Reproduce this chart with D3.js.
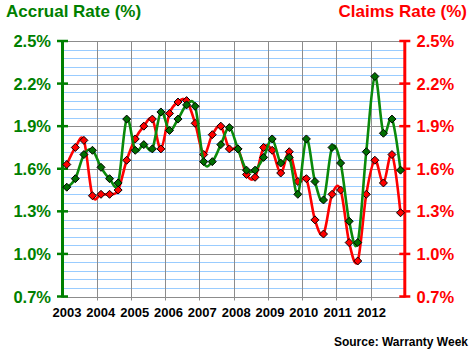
<!DOCTYPE html>
<html>
<head>
<meta charset="utf-8">
<title>Accrual Rate vs Claims Rate</title>
<script src="https://d3js.org/d3.v7.min.js"></script>
<style>
  body { margin: 0; background: #fff; }
  svg { display: block; font-family: "Liberation Sans", Arial, sans-serif; font-weight: bold; }
</style>
</head>
<body>
<div id="chart"></div>
<script>
// quarterly data, 2003 Q1 .. 2012 Q4
const years = [2003, 2004, 2005, 2006, 2007, 2008, 2009, 2010, 2011, 2012];
const accrualRate = [
  1.47, 1.53, 1.70, 1.73, 1.61, 1.53, 1.50, 1.95, 1.73, 1.77,
  1.74, 2.00, 1.87, 1.95, 2.05, 2.04, 1.65, 1.65, 1.77, 1.89,
  1.74, 1.59, 1.59, 1.68, 1.81, 1.64, 1.68, 1.42, 1.81, 1.51,
  1.38, 1.75, 1.64, 1.23, 1.08, 1.72, 2.25, 1.85, 1.95, 1.59
];
const claimsRate = [
  1.63, 1.75, 1.80, 1.41, 1.42, 1.42, 1.45, 1.66, 1.81, 1.90,
  1.95, 1.74, 1.99, 2.07, 2.08, 1.92, 1.70, 1.84, 1.90, 1.74,
  1.74, 1.56, 1.54, 1.75, 1.73, 1.57, 1.72, 1.51, 1.53, 1.24,
  1.14, 1.42, 1.45, 1.08, 0.95, 1.42, 1.66, 1.50, 1.70, 1.29
];
const rateTicks = [0.7, 1.0, 1.3, 1.6, 1.9, 2.2, 2.5];

const W = 475, H = 351;
const green = "#008000", red = "#ff0000";

const svg = d3.select("#chart").append("svg")
  .attr("width", W)
  .attr("height", H);

const x = d3.scaleLinear().domain([2003, 2013]).range([62.5, 404.8]);
const y = d3.scaleLinear().domain([0.7, 2.5]).range([296.5, 41]);
// year labels sit a little off the gridlines in the original
const xLabel = d3.scalePoint().domain(years).range([67, 371.5]);

const fmt = d => d3.format(".1f")(d) + "%";

// minor (blue) gridlines every 0.06
const minor = d3.range(0, 31).map(i => 0.7 + i * 0.06)
  .filter(v => !rateTicks.some(t => Math.abs(t - v) < 1e-6));

svg.append("g").selectAll("line").data(minor).join("line")
  .attr("x1", x(2003)).attr("x2", x(2013))
  .attr("y1", d => Math.round(y(d)) + 0.5).attr("y2", d => Math.round(y(d)) + 0.5)
  .attr("stroke", "#99ccff").attr("stroke-width", 1);

svg.append("g").selectAll("line").data(rateTicks).join("line")
  .attr("x1", x(2003)).attr("x2", x(2013))
  .attr("y1", d => Math.round(y(d)) + 0.5).attr("y2", d => Math.round(y(d)) + 0.5)
  .attr("stroke", "#8c8c8c").attr("stroke-width", 1);

svg.append("g").selectAll("line").data(years.slice(1)).join("line")
  .attr("x1", d => Math.round(x(d)) + 0.5).attr("x2", d => Math.round(x(d)) + 0.5)
  .attr("y1", y(2.5)).attr("y2", y(0.7) + 4)
  .attr("stroke", "#8c8c8c").attr("stroke-width", 1);

// left axis (accrual, green)
const left = svg.append("g");
left.append("line")
  .attr("x1", x(2003)).attr("x2", x(2003))
  .attr("y1", y(2.5) - 1).attr("y2", y(0.7) + 1)
  .attr("stroke", green).attr("stroke-width", 3);
left.selectAll(".tk").data(rateTicks).join("line")
  .attr("class", "tk")
  .attr("x1", x(2003) - 5.5).attr("x2", x(2003) + 5.5)
  .attr("y1", d => y(d)).attr("y2", d => y(d))
  .attr("stroke", green).attr("stroke-width", 2.5);
left.selectAll("text").data(rateTicks).join("text")
  .attr("x", 51).attr("y", d => y(d) + 6)
  .attr("text-anchor", "end")
  .attr("fill", green).attr("font-size", "16.5px")
  .text(fmt);

// right axis (claims, red)
const right = svg.append("g");
right.append("line")
  .attr("x1", x(2013)).attr("x2", x(2013))
  .attr("y1", y(2.5) - 1).attr("y2", y(0.7) + 1)
  .attr("stroke", red).attr("stroke-width", 3);
right.selectAll(".tk").data(rateTicks).join("line")
  .attr("class", "tk")
  .attr("x1", x(2013) - 5.5).attr("x2", x(2013) + 5.5)
  .attr("y1", d => y(d)).attr("y2", d => y(d))
  .attr("stroke", red).attr("stroke-width", 2.5);
right.selectAll("text").data(rateTicks).join("text")
  .attr("x", 416.5).attr("y", d => y(d) + 6)
  .attr("fill", red).attr("font-size", "16.5px")
  .text(fmt);

// year labels
svg.append("g").selectAll("text").data(years).join("text")
  .attr("x", d => xLabel(d)).attr("y", 317)
  .attr("text-anchor", "middle")
  .attr("font-size", "13px").attr("fill", "#000")
  .text(d => d);

// series
const qx = i => x(2003 + (i + 0.5) / 4);
const line = d3.line()
  .x((d, i) => qx(i))
  .y(d => y(d))
  .curve(d3.curveCardinal.tension(0));

const diamond = "M0,-4L4,0L0,4L-4,0Z";

function drawSeries(data, stroke, fill) {
  const g = svg.append("g");
  g.append("path")
    .attr("d", line(data))
    .attr("fill", "none")
    .attr("stroke", stroke)
    .attr("stroke-width", 2.6)
    .attr("stroke-linejoin", "round");
  g.selectAll("path.m").data(data).join("path")
    .attr("class", "m")
    .attr("d", diamond)
    .attr("transform", (d, i) => `translate(${qx(i)},${y(d)})`)
    .attr("fill", fill)
    .attr("stroke", "#000")
    .attr("stroke-width", 1);
}

drawSeries(claimsRate, red, red);
drawSeries(accrualRate, "#0a8a0a", "#006e00");

// titles
svg.append("text")
  .attr("x", 6).attr("y", 17)
  .attr("fill", green).attr("font-size", "17px")
  .text("Accrual Rate (%)");
svg.append("text")
  .attr("x", 467).attr("y", 17)
  .attr("text-anchor", "end")
  .attr("fill", red).attr("font-size", "17px")
  .text("Claims Rate (%)");

svg.append("text")
  .attr("x", 468).attr("y", 346)
  .attr("text-anchor", "end")
  .attr("font-size", "12px").attr("fill", "#000")
  .text("Source: Warranty Week");
</script>
</body>
</html>
